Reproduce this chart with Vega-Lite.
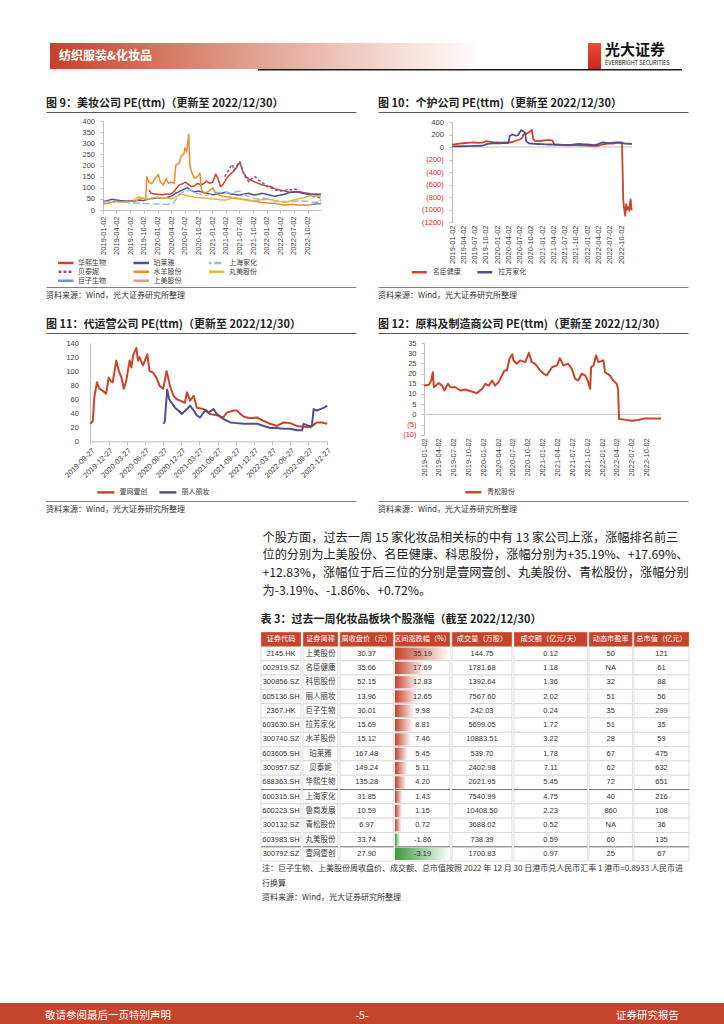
{
"$schema":"https://vega.github.io/schema/vega-lite/v6.json",
"padding":{"left":0,"top":42,"right":0,"bottom":0},
"background":"#ffffff",
"resolve":{"scale":{"color":"independent","strokeDash":"independent"},"legend":{"color":"independent","strokeDash":"independent"}},
"config":{
 "font":"Noto Sans CJK SC",
 "view":{"stroke":null},
 "concat":{"spacing":0},
 "axis":{"labelFont":"Liberation Sans","labelFontSize":7.5,"labelColor":"#404040","domainColor":"#bfbfbf","tickColor":"#bfbfbf","grid":false,"tickSize":3,"labelFlush":false,"labelOverlap":false},
 "legend":{"labelFont":"Noto Sans CJK SC","labelFontSize":7,"labelColor":"#404040"},
 "title":{"font":"Noto Sans CJK SC","fontSize":11,"fontWeight":"bold","color":"#222222","anchor":"start"}
},
"datasets":{
"c9":[
{"d":"2019/11/06","s":"华熙生物","v":90},{"d":"2019/11/20","s":"华熙生物","v":75},{"d":"2019/12/10","s":"华熙生物","v":72},{"d":"2020/01/06","s":"华熙生物","v":70},{"d":"2020/02/05","s":"华熙生物","v":68},{"d":"2020/03/02","s":"华熙生物","v":72},{"d":"2020/03/25","s":"华熙生物","v":70},{"d":"2020/04/20","s":"华熙生物","v":82},{"d":"2020/05/10","s":"华熙生物","v":100},{"d":"2020/05/25","s":"华熙生物","v":112},{"d":"2020/06/15","s":"华熙生物","v":118},{"d":"2020/07/06","s":"华熙生物","v":125},{"d":"2020/07/25","s":"华熙生物","v":115},{"d":"2020/08/15","s":"华熙生物","v":105},{"d":"2020/09/05","s":"华熙生物","v":108},{"d":"2020/09/25","s":"华熙生物","v":120},{"d":"2020/10/15","s":"华熙生物","v":112},{"d":"2020/11/05","s":"华熙生物","v":118},{"d":"2020/11/25","s":"华熙生物","v":130},{"d":"2020/12/15","s":"华熙生物","v":120},{"d":"2021/01/05","s":"华熙生物","v":125},{"d":"2021/01/25","s":"华熙生物","v":162},{"d":"2021/02/10","s":"华熙生物","v":140},{"d":"2021/02/26","s":"华熙生物","v":105},{"d":"2021/03/15","s":"华熙生物","v":115},{"d":"2021/04/05","s":"华熙生物","v":140},{"d":"2021/04/25","s":"华熙生物","v":155},{"d":"2021/05/20","s":"华熙生物","v":172},{"d":"2021/06/10","s":"华熙生物","v":187},{"d":"2021/06/25","s":"华熙生物","v":205},{"d":"2021/07/05","s":"华熙生物","v":214},{"d":"2021/07/15","s":"华熙生物","v":195},{"d":"2021/07/25","s":"华熙生物","v":172},{"d":"2021/08/15","s":"华熙生物","v":150},{"d":"2021/09/10","s":"华熙生物","v":135},{"d":"2021/10/10","s":"华熙生物","v":127},{"d":"2021/11/05","s":"华熙生物","v":120},{"d":"2021/12/05","s":"华熙生物","v":112},{"d":"2022/01/05","s":"华熙生物","v":108},{"d":"2022/01/28","s":"华熙生物","v":105},{"d":"2022/03/01","s":"华熙生物","v":94},{"d":"2022/04/01","s":"华熙生物","v":90},{"d":"2022/05/01","s":"华熙生物","v":85},{"d":"2022/06/01","s":"华熙生物","v":80},{"d":"2022/07/01","s":"华熙生物","v":80},{"d":"2022/08/01","s":"华熙生物","v":82},{"d":"2022/09/01","s":"华熙生物","v":78},{"d":"2022/10/01","s":"华熙生物","v":75},{"d":"2022/11/01","s":"华熙生物","v":72},{"d":"2022/12/01","s":"华熙生物","v":72},{"d":"2022/12/30","s":"华熙生物","v":70},
{"d":"2019/01/02","s":"珀莱雅","v":38},{"d":"2019/02/01","s":"珀莱雅","v":42},{"d":"2019/03/01","s":"珀莱雅","v":48},{"d":"2019/04/01","s":"珀莱雅","v":45},{"d":"2019/05/01","s":"珀莱雅","v":42},{"d":"2019/06/01","s":"珀莱雅","v":40},{"d":"2019/07/01","s":"珀莱雅","v":42},{"d":"2019/08/01","s":"珀莱雅","v":40},{"d":"2019/09/01","s":"珀莱雅","v":45},{"d":"2019/10/01","s":"珀莱雅","v":42},{"d":"2019/11/01","s":"珀莱雅","v":50},{"d":"2019/12/01","s":"珀莱雅","v":52},{"d":"2020/01/02","s":"珀莱雅","v":55},{"d":"2020/02/03","s":"珀莱雅","v":52},{"d":"2020/03/02","s":"珀莱雅","v":55},{"d":"2020/04/01","s":"珀莱雅","v":62},{"d":"2020/05/01","s":"珀莱雅","v":75},{"d":"2020/06/01","s":"珀莱雅","v":85},{"d":"2020/07/01","s":"珀莱雅","v":95},{"d":"2020/07/20","s":"珀莱雅","v":100},{"d":"2020/08/10","s":"珀莱雅","v":90},{"d":"2020/09/01","s":"珀莱雅","v":82},{"d":"2020/10/01","s":"珀莱雅","v":85},{"d":"2020/11/02","s":"珀莱雅","v":80},{"d":"2020/12/01","s":"珀莱雅","v":75},{"d":"2021/01/04","s":"珀莱雅","v":68},{"d":"2021/02/01","s":"珀莱雅","v":72},{"d":"2021/03/01","s":"珀莱雅","v":75},{"d":"2021/04/01","s":"珀莱雅","v":80},{"d":"2021/05/06","s":"珀莱雅","v":72},{"d":"2021/06/01","s":"珀莱雅","v":70},{"d":"2021/07/01","s":"珀莱雅","v":67},{"d":"2021/08/02","s":"珀莱雅","v":72},{"d":"2021/09/01","s":"珀莱雅","v":75},{"d":"2021/10/08","s":"珀莱雅","v":67},{"d":"2021/11/01","s":"珀莱雅","v":70},{"d":"2021/12/01","s":"珀莱雅","v":75},{"d":"2022/01/04","s":"珀莱雅","v":70},{"d":"2022/02/07","s":"珀莱雅","v":64},{"d":"2022/03/01","s":"珀莱雅","v":62},{"d":"2022/04/01","s":"珀莱雅","v":67},{"d":"2022/05/05","s":"珀莱雅","v":72},{"d":"2022/06/01","s":"珀莱雅","v":78},{"d":"2022/07/01","s":"珀莱雅","v":82},{"d":"2022/08/01","s":"珀莱雅","v":80},{"d":"2022/09/01","s":"珀莱雅","v":75},{"d":"2022/10/10","s":"珀莱雅","v":70},{"d":"2022/11/01","s":"珀莱雅","v":67},{"d":"2022/12/01","s":"珀莱雅","v":68},{"d":"2022/12/30","s":"珀莱雅","v":70},
{"d":"2019/01/02","s":"上海家化","v":35},{"d":"2019/03/01","s":"上海家化","v":40},{"d":"2019/05/01","s":"上海家化","v":38},{"d":"2019/07/01","s":"上海家化","v":33},{"d":"2019/09/02","s":"上海家化","v":30},{"d":"2019/11/01","s":"上海家化","v":28},{"d":"2020/01/02","s":"上海家化","v":27},{"d":"2020/03/02","s":"上海家化","v":25},{"d":"2020/04/15","s":"上海家化","v":30},{"d":"2020/05/01","s":"上海家化","v":45},{"d":"2020/05/20","s":"上海家化","v":65},{"d":"2020/06/15","s":"上海家化","v":80},{"d":"2020/07/15","s":"上海家化","v":85},{"d":"2020/08/10","s":"上海家化","v":92},{"d":"2020/09/01","s":"上海家化","v":78},{"d":"2020/10/09","s":"上海家化","v":72},{"d":"2020/11/02","s":"上海家化","v":65},{"d":"2020/12/01","s":"上海家化","v":68},{"d":"2021/01/04","s":"上海家化","v":75},{"d":"2021/02/01","s":"上海家化","v":80},{"d":"2021/03/01","s":"上海家化","v":78},{"d":"2021/04/01","s":"上海家化","v":82},{"d":"2021/05/06","s":"上海家化","v":75},{"d":"2021/06/01","s":"上海家化","v":80},{"d":"2021/07/01","s":"上海家化","v":85},{"d":"2021/08/02","s":"上海家化","v":70},{"d":"2021/09/01","s":"上海家化","v":60},{"d":"2021/10/08","s":"上海家化","v":52},{"d":"2021/11/01","s":"上海家化","v":50},{"d":"2021/12/01","s":"上海家化","v":55},{"d":"2022/01/04","s":"上海家化","v":50},{"d":"2022/02/07","s":"上海家化","v":45},{"d":"2022/03/01","s":"上海家化","v":42},{"d":"2022/04/01","s":"上海家化","v":40},{"d":"2022/05/05","s":"上海家化","v":38},{"d":"2022/06/01","s":"上海家化","v":35},{"d":"2022/07/01","s":"上海家化","v":38},{"d":"2022/08/01","s":"上海家化","v":42},{"d":"2022/09/01","s":"上海家化","v":40},{"d":"2022/10/10","s":"上海家化","v":38},{"d":"2022/11/01","s":"上海家化","v":36},{"d":"2022/12/01","s":"上海家化","v":35},{"d":"2022/12/30","s":"上海家化","v":35},
{"d":"2021/03/25","s":"贝泰妮","v":150},{"d":"2021/04/10","s":"贝泰妮","v":165},{"d":"2021/04/25","s":"贝泰妮","v":185},{"d":"2021/05/15","s":"贝泰妮","v":205},{"d":"2021/05/28","s":"贝泰妮","v":180},{"d":"2021/06/15","s":"贝泰妮","v":200},{"d":"2021/07/05","s":"贝泰妮","v":217},{"d":"2021/07/15","s":"贝泰妮","v":200},{"d":"2021/07/28","s":"贝泰妮","v":170},{"d":"2021/08/15","s":"贝泰妮","v":142},{"d":"2021/09/05","s":"贝泰妮","v":127},{"d":"2021/09/25","s":"贝泰妮","v":142},{"d":"2021/10/15","s":"贝泰妮","v":150},{"d":"2021/11/05","s":"贝泰妮","v":135},{"d":"2021/12/01","s":"贝泰妮","v":125},{"d":"2022/01/04","s":"贝泰妮","v":105},{"d":"2022/02/07","s":"贝泰妮","v":97},{"d":"2022/03/01","s":"贝泰妮","v":90},{"d":"2022/04/01","s":"贝泰妮","v":85},{"d":"2022/05/05","s":"贝泰妮","v":88},{"d":"2022/05/25","s":"贝泰妮","v":94},{"d":"2022/06/15","s":"贝泰妮","v":90},{"d":"2022/07/01","s":"贝泰妮","v":95},{"d":"2022/07/20","s":"贝泰妮","v":92},{"d":"2022/08/10","s":"贝泰妮","v":82},{"d":"2022/09/01","s":"贝泰妮","v":80},{"d":"2022/10/10","s":"贝泰妮","v":70},{"d":"2022/11/01","s":"贝泰妮","v":62},{"d":"2022/12/01","s":"贝泰妮","v":58},{"d":"2022/12/30","s":"贝泰妮","v":55},
{"d":"2019/01/02","s":"水羊股份","v":28},{"d":"2019/02/01","s":"水羊股份","v":30},{"d":"2019/03/01","s":"水羊股份","v":35},{"d":"2019/04/01","s":"水羊股份","v":38},{"d":"2019/05/06","s":"水羊股份","v":36},{"d":"2019/06/03","s":"水羊股份","v":38},{"d":"2019/07/01","s":"水羊股份","v":40},{"d":"2019/08/01","s":"水羊股份","v":38},{"d":"2019/09/02","s":"水羊股份","v":50},{"d":"2019/09/20","s":"水羊股份","v":55},{"d":"2019/10/15","s":"水羊股份","v":48},{"d":"2019/10/22","s":"水羊股份","v":150},{"d":"2019/11/05","s":"水羊股份","v":125},{"d":"2019/11/25","s":"水羊股份","v":118},{"d":"2019/12/10","s":"水羊股份","v":135},{"d":"2020/01/06","s":"水羊股份","v":160},{"d":"2020/01/20","s":"水羊股份","v":127},{"d":"2020/02/10","s":"水羊股份","v":112},{"d":"2020/02/28","s":"水羊股份","v":142},{"d":"2020/03/15","s":"水羊股份","v":120},{"d":"2020/04/01","s":"水羊股份","v":125},{"d":"2020/04/22","s":"水羊股份","v":120},{"d":"2020/05/03","s":"水羊股份","v":202},{"d":"2020/05/25","s":"水羊股份","v":210},{"d":"2020/06/10","s":"水羊股份","v":245},{"d":"2020/06/25","s":"水羊股份","v":250},{"d":"2020/07/03","s":"水羊股份","v":280},{"d":"2020/07/15","s":"水羊股份","v":260},{"d":"2020/07/28","s":"水羊股份","v":340},{"d":"2020/08/05","s":"水羊股份","v":200},{"d":"2020/08/20","s":"水羊股份","v":165},{"d":"2020/09/05","s":"水羊股份","v":142},{"d":"2020/09/25","s":"水羊股份","v":150},{"d":"2020/10/12","s":"水羊股份","v":165},{"d":"2020/10/20","s":"水羊股份","v":97},{"d":"2020/11/02","s":"水羊股份","v":75},{"d":"2020/12/01","s":"水羊股份","v":80},{"d":"2021/01/05","s":"水羊股份","v":100},{"d":"2021/01/25","s":"水羊股份","v":75},{"d":"2021/02/25","s":"水羊股份","v":65},{"d":"2021/03/25","s":"水羊股份","v":60},{"d":"2021/05/01","s":"水羊股份","v":58},{"d":"2021/06/01","s":"水羊股份","v":52},{"d":"2021/07/01","s":"水羊股份","v":50},{"d":"2021/08/02","s":"水羊股份","v":48},{"d":"2021/09/01","s":"水羊股份","v":45},{"d":"2021/10/08","s":"水羊股份","v":40},{"d":"2021/11/01","s":"水羊股份","v":38},{"d":"2021/12/01","s":"水羊股份","v":33},{"d":"2022/01/04","s":"水羊股份","v":32},{"d":"2022/02/07","s":"水羊股份","v":30},{"d":"2022/03/01","s":"水羊股份","v":30},{"d":"2022/04/01","s":"水羊股份","v":25},{"d":"2022/05/05","s":"水羊股份","v":22},{"d":"2022/06/01","s":"水羊股份","v":25},{"d":"2022/07/01","s":"水羊股份","v":25},{"d":"2022/08/01","s":"水羊股份","v":22},{"d":"2022/09/01","s":"水羊股份","v":22},{"d":"2022/10/10","s":"水羊股份","v":22},{"d":"2022/11/01","s":"水羊股份","v":25},{"d":"2022/12/01","s":"水羊股份","v":28},{"d":"2022/12/30","s":"水羊股份","v":30},
{"d":"2019/07/25","s":"丸美股份","v":45},{"d":"2019/08/15","s":"丸美股份","v":55},{"d":"2019/09/02","s":"丸美股份","v":58},{"d":"2019/10/08","s":"丸美股份","v":52},{"d":"2019/11/01","s":"丸美股份","v":50},{"d":"2019/12/02","s":"丸美股份","v":55},{"d":"2020/01/02","s":"丸美股份","v":58},{"d":"2020/02/03","s":"丸美股份","v":52},{"d":"2020/03/02","s":"丸美股份","v":55},{"d":"2020/04/01","s":"丸美股份","v":50},{"d":"2020/05/06","s":"丸美股份","v":60},{"d":"2020/06/01","s":"丸美股份","v":70},{"d":"2020/07/01","s":"丸美股份","v":68},{"d":"2020/08/03","s":"丸美股份","v":62},{"d":"2020/09/01","s":"丸美股份","v":58},{"d":"2020/10/09","s":"丸美股份","v":55},{"d":"2020/11/02","s":"丸美股份","v":55},{"d":"2020/12/01","s":"丸美股份","v":52},{"d":"2021/01/04","s":"丸美股份","v":50},{"d":"2021/02/01","s":"丸美股份","v":48},{"d":"2021/03/01","s":"丸美股份","v":45},{"d":"2021/04/01","s":"丸美股份","v":45},{"d":"2021/05/06","s":"丸美股份","v":52},{"d":"2021/06/01","s":"丸美股份","v":57},{"d":"2021/07/01","s":"丸美股份","v":52},{"d":"2021/08/02","s":"丸美股份","v":45},{"d":"2021/09/01","s":"丸美股份","v":42},{"d":"2021/10/08","s":"丸美股份","v":40},{"d":"2021/11/01","s":"丸美股份","v":44},{"d":"2021/12/01","s":"丸美股份","v":47},{"d":"2022/01/04","s":"丸美股份","v":48},{"d":"2022/02/07","s":"丸美股份","v":45},{"d":"2022/03/01","s":"丸美股份","v":40},{"d":"2022/04/01","s":"丸美股份","v":37},{"d":"2022/05/05","s":"丸美股份","v":35},{"d":"2022/06/01","s":"丸美股份","v":40},{"d":"2022/07/01","s":"丸美股份","v":45},{"d":"2022/08/01","s":"丸美股份","v":50},{"d":"2022/09/01","s":"丸美股份","v":55},{"d":"2022/10/10","s":"丸美股份","v":62},{"d":"2022/11/01","s":"丸美股份","v":65},{"d":"2022/12/01","s":"丸美股份","v":62},{"d":"2022/12/30","s":"丸美股份","v":60},
{"d":"2022/11/04","s":"巨子生物","v":28},{"d":"2022/11/20","s":"巨子生物","v":25},{"d":"2022/12/05","s":"巨子生物","v":30},{"d":"2022/12/20","s":"巨子生物","v":27},{"d":"2022/12/30","s":"巨子生物","v":30},
{"d":"2022/12/22","s":"上美股份","v":40},{"d":"2022/12/30","s":"上美股份","v":48}
],
"c10":[
{"d":"2019/01/02","s":"名臣健康","v":40},{"d":"2019/02/01","s":"名臣健康","v":45},{"d":"2019/03/01","s":"名臣健康","v":55},{"d":"2019/04/01","s":"名臣健康","v":60},{"d":"2019/05/06","s":"名臣健康","v":65},{"d":"2019/06/03","s":"名臣健康","v":70},{"d":"2019/07/01","s":"名臣健康","v":72},{"d":"2019/08/01","s":"名臣健康","v":65},{"d":"2019/09/02","s":"名臣健康","v":70},{"d":"2019/10/08","s":"名臣健康","v":95},{"d":"2019/11/01","s":"名臣健康","v":85},{"d":"2019/12/02","s":"名臣健康","v":75},{"d":"2020/01/02","s":"名臣健康","v":72},{"d":"2020/02/03","s":"名臣健康","v":70},{"d":"2020/03/02","s":"名臣健康","v":72},{"d":"2020/04/01","s":"名臣健康","v":70},{"d":"2020/05/06","s":"名臣健康","v":80},{"d":"2020/06/01","s":"名臣健康","v":100},{"d":"2020/07/01","s":"名臣健康","v":120},{"d":"2020/07/20","s":"名臣健康","v":140},{"d":"2020/08/05","s":"名臣健康","v":205},{"d":"2020/08/25","s":"名臣健康","v":210},{"d":"2020/09/15","s":"名臣健康","v":235},{"d":"2020/10/09","s":"名臣健康","v":275},{"d":"2020/10/20","s":"名臣健康","v":130},{"d":"2020/11/02","s":"名臣健康","v":100},{"d":"2020/12/01","s":"名臣健康","v":95},{"d":"2021/01/04","s":"名臣健康","v":100},{"d":"2021/02/01","s":"名臣健康","v":110},{"d":"2021/03/01","s":"名臣健康","v":110},{"d":"2021/03/25","s":"名臣健康","v":105},{"d":"2021/04/10","s":"名臣健康","v":35},{"d":"2021/05/06","s":"名臣健康","v":38},{"d":"2021/06/01","s":"名臣健康","v":35},{"d":"2021/07/01","s":"名臣健康","v":30},{"d":"2021/08/02","s":"名臣健康","v":28},{"d":"2021/09/01","s":"名臣健康","v":30},{"d":"2021/10/08","s":"名臣健康","v":32},{"d":"2021/11/01","s":"名臣健康","v":28},{"d":"2021/12/01","s":"名臣健康","v":25},{"d":"2022/01/04","s":"名臣健康","v":22},{"d":"2022/02/07","s":"名臣健康","v":20},{"d":"2022/03/01","s":"名臣健康","v":18},{"d":"2022/04/01","s":"名臣健康","v":20},{"d":"2022/05/05","s":"名臣健康","v":40},{"d":"2022/06/01","s":"名臣健康","v":50},{"d":"2022/07/01","s":"名臣健康","v":60},{"d":"2022/08/01","s":"名臣健康","v":55},{"d":"2022/09/01","s":"名臣健康","v":70},{"d":"2022/10/10","s":"名臣健康","v":72},{"d":"2022/10/20","s":"名臣健康","v":-850},{"d":"2022/10/28","s":"名臣健康","v":-1000},{"d":"2022/11/05","s":"名臣健康","v":-1100},{"d":"2022/11/12","s":"名臣健康","v":-920},{"d":"2022/11/20","s":"名臣健康","v":-1000},{"d":"2022/11/28","s":"名臣健康","v":-960},{"d":"2022/12/08","s":"名臣健康","v":-1020},{"d":"2022/12/15","s":"名臣健康","v":-880},{"d":"2022/12/20","s":"名臣健康","v":-840},{"d":"2022/12/25","s":"名臣健康","v":-1000},{"d":"2022/12/30","s":"名臣健康","v":-980},
{"d":"2019/01/02","s":"拉芳家化","v":10},{"d":"2019/03/01","s":"拉芳家化","v":12},{"d":"2019/05/06","s":"拉芳家化","v":15},{"d":"2019/07/01","s":"拉芳家化","v":18},{"d":"2019/09/02","s":"拉芳家化","v":20},{"d":"2019/10/08","s":"拉芳家化","v":45},{"d":"2019/11/01","s":"拉芳家化","v":55},{"d":"2019/12/02","s":"拉芳家化","v":60},{"d":"2020/01/02","s":"拉芳家化","v":62},{"d":"2020/02/03","s":"拉芳家化","v":60},{"d":"2020/03/02","s":"拉芳家化","v":65},{"d":"2020/04/01","s":"拉芳家化","v":62},{"d":"2020/04/13","s":"拉芳家化","v":175},{"d":"2020/05/06","s":"拉芳家化","v":200},{"d":"2020/06/01","s":"拉芳家化","v":180},{"d":"2020/06/20","s":"拉芳家化","v":190},{"d":"2020/07/06","s":"拉芳家化","v":245},{"d":"2020/07/15","s":"拉芳家化","v":270},{"d":"2020/08/01","s":"拉芳家化","v":250},{"d":"2020/08/15","s":"拉芳家化","v":230},{"d":"2020/08/25","s":"拉芳家化","v":90},{"d":"2020/09/15","s":"拉芳家化","v":60},{"d":"2020/10/09","s":"拉芳家化","v":55},{"d":"2020/11/02","s":"拉芳家化","v":50},{"d":"2020/12/01","s":"拉芳家化","v":48},{"d":"2021/01/04","s":"拉芳家化","v":45},{"d":"2021/02/01","s":"拉芳家化","v":42},{"d":"2021/03/01","s":"拉芳家化","v":40},{"d":"2021/05/06","s":"拉芳家化","v":38},{"d":"2021/07/01","s":"拉芳家化","v":35},{"d":"2021/09/01","s":"拉芳家化","v":38},{"d":"2021/10/08","s":"拉芳家化","v":45},{"d":"2021/11/01","s":"拉芳家化","v":48},{"d":"2021/12/01","s":"拉芳家化","v":42},{"d":"2022/01/04","s":"拉芳家化","v":40},{"d":"2022/02/07","s":"拉芳家化","v":35},{"d":"2022/03/01","s":"拉芳家化","v":30},{"d":"2022/04/01","s":"拉芳家化","v":45},{"d":"2022/05/05","s":"拉芳家化","v":75},{"d":"2022/06/01","s":"拉芳家化","v":68},{"d":"2022/07/01","s":"拉芳家化","v":62},{"d":"2022/08/01","s":"拉芳家化","v":70},{"d":"2022/09/01","s":"拉芳家化","v":72},{"d":"2022/10/10","s":"拉芳家化","v":65},{"d":"2022/11/01","s":"拉芳家化","v":55},{"d":"2022/12/01","s":"拉芳家化","v":52},{"d":"2022/12/30","s":"拉芳家化","v":50}
],
"c11":[
{"d":"2019/09/27","s":"壹网壹创","v":25},{"d":"2019/10/09","s":"壹网壹创","v":29},{"d":"2019/10/17","s":"壹网壹创","v":63},{"d":"2019/10/30","s":"壹网壹创","v":84},{"d":"2019/11/11","s":"壹网壹创","v":75},{"d":"2019/11/28","s":"壹网壹创","v":72},{"d":"2019/12/15","s":"壹网壹创","v":68},{"d":"2019/12/28","s":"壹网壹创","v":91},{"d":"2020/01/08","s":"壹网壹创","v":86},{"d":"2020/01/17","s":"壹网壹创","v":84},{"d":"2020/02/04","s":"壹网壹创","v":115},{"d":"2020/02/17","s":"壹网壹创","v":100},{"d":"2020/03/01","s":"壹网壹创","v":91},{"d":"2020/03/13","s":"壹网壹创","v":75},{"d":"2020/03/25","s":"壹网壹创","v":86},{"d":"2020/04/11","s":"壹网壹创","v":115},{"d":"2020/04/20","s":"壹网壹创","v":105},{"d":"2020/04/28","s":"壹网壹创","v":122},{"d":"2020/05/15","s":"壹网壹创","v":133},{"d":"2020/05/23","s":"壹网壹创","v":115},{"d":"2020/05/31","s":"壹网壹创","v":120},{"d":"2020/06/17","s":"壹网壹创","v":108},{"d":"2020/07/09","s":"壹网壹创","v":124},{"d":"2020/07/20","s":"壹网壹创","v":100},{"d":"2020/08/06","s":"壹网壹创","v":98},{"d":"2020/08/23","s":"壹网壹创","v":91},{"d":"2020/09/09","s":"壹网壹创","v":79},{"d":"2020/09/27","s":"壹网壹创","v":75},{"d":"2020/10/14","s":"壹网壹创","v":100},{"d":"2020/10/31","s":"壹网壹创","v":79},{"d":"2020/11/17","s":"壹网壹创","v":65},{"d":"2020/12/04","s":"壹网壹创","v":60},{"d":"2020/12/21","s":"壹网壹创","v":58},{"d":"2021/01/14","s":"壹网壹创","v":55},{"d":"2021/01/24","s":"壹网壹创","v":70},{"d":"2021/02/09","s":"壹网壹创","v":58},{"d":"2021/02/27","s":"壹网壹创","v":65},{"d":"2021/03/15","s":"壹网壹创","v":48},{"d":"2021/04/17","s":"壹网壹创","v":46},{"d":"2021/05/03","s":"壹网壹创","v":44},{"d":"2021/05/20","s":"壹网壹创","v":39},{"d":"2021/06/24","s":"壹网壹创","v":37},{"d":"2021/07/26","s":"壹网壹创","v":34},{"d":"2021/08/12","s":"壹网壹创","v":41},{"d":"2021/09/16","s":"壹网壹创","v":44},{"d":"2021/10/03","s":"壹网壹创","v":44},{"d":"2021/10/20","s":"壹网壹创","v":39},{"d":"2021/11/06","s":"壹网壹创","v":35},{"d":"2021/12/09","s":"壹网壹创","v":33},{"d":"2022/01/12","s":"壹网壹创","v":34},{"d":"2022/02/15","s":"壹网壹创","v":29},{"d":"2022/03/19","s":"壹网壹创","v":25},{"d":"2022/04/22","s":"壹网壹创","v":22},{"d":"2022/05/25","s":"壹网壹创","v":27},{"d":"2022/06/27","s":"壹网壹创","v":26},{"d":"2022/07/30","s":"壹网壹创","v":22},{"d":"2022/09/03","s":"壹网壹创","v":21},{"d":"2022/10/06","s":"壹网壹创","v":20},{"d":"2022/11/08","s":"壹网壹创","v":27},{"d":"2022/12/03","s":"壹网壹创","v":27},{"d":"2022/12/30","s":"壹网壹创","v":25},
{"d":"2020/09/29","s":"丽人丽妆","v":25},{"d":"2020/10/05","s":"丽人丽妆","v":29},{"d":"2020/10/17","s":"丽人丽妆","v":74},{"d":"2020/10/27","s":"丽人丽妆","v":60},{"d":"2020/11/08","s":"丽人丽妆","v":55},{"d":"2020/11/25","s":"丽人丽妆","v":48},{"d":"2020/12/12","s":"丽人丽妆","v":44},{"d":"2020/12/29","s":"丽人丽妆","v":39},{"d":"2021/01/24","s":"丽人丽妆","v":46},{"d":"2021/02/09","s":"丽人丽妆","v":51},{"d":"2021/02/27","s":"丽人丽妆","v":44},{"d":"2021/03/15","s":"丽人丽妆","v":37},{"d":"2021/03/31","s":"丽人丽妆","v":34},{"d":"2021/04/25","s":"丽人丽妆","v":44},{"d":"2021/05/12","s":"丽人丽妆","v":41},{"d":"2021/06/06","s":"丽人丽妆","v":46},{"d":"2021/06/24","s":"丽人丽妆","v":39},{"d":"2021/07/26","s":"丽人丽妆","v":32},{"d":"2021/08/30","s":"丽人丽妆","v":27},{"d":"2021/10/03","s":"丽人丽妆","v":26},{"d":"2021/11/06","s":"丽人丽妆","v":25},{"d":"2021/12/09","s":"丽人丽妆","v":25},{"d":"2022/01/12","s":"丽人丽妆","v":25},{"d":"2022/02/15","s":"丽人丽妆","v":22},{"d":"2022/03/19","s":"丽人丽妆","v":19},{"d":"2022/04/22","s":"丽人丽妆","v":19},{"d":"2022/05/25","s":"丽人丽妆","v":18},{"d":"2022/06/27","s":"丽人丽妆","v":18},{"d":"2022/07/30","s":"丽人丽妆","v":16},{"d":"2022/08/26","s":"丽人丽妆","v":16},{"d":"2022/09/03","s":"丽人丽妆","v":25},{"d":"2022/09/28","s":"丽人丽妆","v":22},{"d":"2022/10/14","s":"丽人丽妆","v":22},{"d":"2022/10/23","s":"丽人丽妆","v":46},{"d":"2022/11/08","s":"丽人丽妆","v":44},{"d":"2022/11/25","s":"丽人丽妆","v":46},{"d":"2022/12/14","s":"丽人丽妆","v":48},{"d":"2022/12/30","s":"丽人丽妆","v":51}
],
"c12":[
{"d":"2019/01/02","s":"青松股份","v":14.1},{"d":"2019/02/01","s":"青松股份","v":14.5},{"d":"2019/02/16","s":"青松股份","v":16.6},{"d":"2019/02/25","s":"青松股份","v":20.7},{"d":"2019/03/04","s":"青松股份","v":13.3},{"d":"2019/04/02","s":"青松股份","v":15.4},{"d":"2019/04/23","s":"青松股份","v":14.1},{"d":"2019/05/08","s":"青松股份","v":11.7},{"d":"2019/05/29","s":"青松股份","v":15.0},{"d":"2019/06/13","s":"青松股份","v":13.3},{"d":"2019/07/14","s":"青松股份","v":13.3},{"d":"2019/08/13","s":"青松股份","v":11.7},{"d":"2019/09/13","s":"青松股份","v":12.2},{"d":"2019/10/23","s":"青松股份","v":11.2},{"d":"2019/11/22","s":"青松股份","v":10.4},{"d":"2019/12/26","s":"青松股份","v":12.5},{"d":"2020/01/14","s":"青松股份","v":15.0},{"d":"2020/02/04","s":"青松股份","v":14.1},{"d":"2020/02/25","s":"青松股份","v":16.6},{"d":"2020/03/14","s":"青松股份","v":14.1},{"d":"2020/04/05","s":"青松股份","v":15.8},{"d":"2020/04/26","s":"青松股份","v":19.1},{"d":"2020/05/11","s":"青松股份","v":21.5},{"d":"2020/05/26","s":"青松股份","v":21.5},{"d":"2020/06/11","s":"青松股份","v":27.3},{"d":"2020/06/28","s":"青松股份","v":29.5},{"d":"2020/07/05","s":"青松股份","v":26.5},{"d":"2020/07/26","s":"青松股份","v":24.8},{"d":"2020/08/16","s":"青松股份","v":26.5},{"d":"2020/09/16","s":"青松股份","v":25.6},{"d":"2020/10/08","s":"青松股份","v":30.2},{"d":"2020/10/26","s":"青松股份","v":25.6},{"d":"2020/11/16","s":"青松股份","v":24.8},{"d":"2020/12/17","s":"青松股份","v":21.5},{"d":"2021/01/08","s":"青松股份","v":19.9},{"d":"2021/01/26","s":"青松股份","v":19.1},{"d":"2021/03/01","s":"青松股份","v":23.2},{"d":"2021/03/30","s":"青松股份","v":24.0},{"d":"2021/04/17","s":"青松股份","v":27.6},{"d":"2021/05/08","s":"青松股份","v":24.0},{"d":"2021/06/07","s":"青松股份","v":24.8},{"d":"2021/06/29","s":"青松股份","v":22.3},{"d":"2021/07/20","s":"青松股份","v":17.4},{"d":"2021/08/08","s":"青松股份","v":16.6},{"d":"2021/08/29","s":"青松股份","v":19.9},{"d":"2021/09/19","s":"青松股份","v":19.1},{"d":"2021/10/05","s":"青松股份","v":16.6},{"d":"2021/10/20","s":"青松股份","v":12.5},{"d":"2021/10/26","s":"青松股份","v":23.2},{"d":"2021/11/10","s":"青松股份","v":24.0},{"d":"2021/11/25","s":"青松股份","v":28.9},{"d":"2021/12/10","s":"青松股份","v":25.6},{"d":"2022/01/10","s":"青松股份","v":26.5},{"d":"2022/01/19","s":"青松股份","v":20.7},{"d":"2022/02/18","s":"青松股份","v":19.1},{"d":"2022/03/11","s":"青松股份","v":16.6},{"d":"2022/04/01","s":"青松股份","v":15.0},{"d":"2022/04/10","s":"青松股份","v":12.5},{"d":"2022/04/16","s":"青松股份","v":-2.3},{"d":"2022/05/20","s":"青松股份","v":-2.6},{"d":"2022/07/02","s":"青松股份","v":-3.1},{"d":"2022/08/11","s":"青松股份","v":-2.8},{"d":"2022/09/23","s":"青松股份","v":-2.0},{"d":"2022/11/02","s":"青松股份","v":-2.0},{"d":"2022/12/30","s":"青松股份","v":-2.0}
],
"tbl":[
{"r":1,"code":"2145.HK","name":"上美股份","close":"30.37","chg":35.19,"chgt":"35.19","vol":"144.75","amt":"0.12","pe":"50","mcap":"121"},
{"r":2,"code":"002919.SZ","name":"名臣健康","close":"35.66","chg":17.69,"chgt":"17.69","vol":"1781.68","amt":"1.18","pe":"NA","mcap":"61"},
{"r":3,"code":"300856.SZ","name":"科思股份","close":"52.15","chg":12.83,"chgt":"12.83","vol":"1392.64","amt":"1.36","pe":"32","mcap":"88"},
{"r":4,"code":"605136.SH","name":"丽人丽妆","close":"13.96","chg":12.65,"chgt":"12.65","vol":"7567.60","amt":"2.02","pe":"51","mcap":"56"},
{"r":5,"code":"2367.HK","name":"巨子生物","close":"30.01","chg":9.98,"chgt":"9.98","vol":"242.03","amt":"0.24","pe":"35","mcap":"299"},
{"r":6,"code":"603630.SH","name":"拉芳家化","close":"15.69","chg":8.81,"chgt":"8.81","vol":"5699.05","amt":"1.72","pe":"51","mcap":"35"},
{"r":7,"code":"300740.SZ","name":"水羊股份","close":"15.12","chg":7.46,"chgt":"7.46","vol":"10883.51","amt":"3.22","pe":"28","mcap":"59"},
{"r":8,"code":"603605.SH","name":"珀莱雅","close":"167.48","chg":5.45,"chgt":"5.45","vol":"539.70","amt":"1.78","pe":"67","mcap":"475"},
{"r":9,"code":"300957.SZ","name":"贝泰妮","close":"149.24","chg":5.11,"chgt":"5.11","vol":"2402.98","amt":"7.11","pe":"62","mcap":"632"},
{"r":10,"code":"688363.SH","name":"华熙生物","close":"135.28","chg":4.20,"chgt":"4.20","vol":"2021.95","amt":"5.45","pe":"72","mcap":"651"},
{"r":11,"code":"600315.SH","name":"上海家化","close":"31.85","chg":1.43,"chgt":"1.43","vol":"7540.99","amt":"4.75","pe":"40","mcap":"216"},
{"r":12,"code":"600223.SH","name":"鲁商发展","close":"10.59","chg":1.15,"chgt":"1.15","vol":"10408.50","amt":"2.23","pe":"860","mcap":"108"},
{"r":13,"code":"300132.SZ","name":"青松股份","close":"6.97","chg":0.72,"chgt":"0.72","vol":"3688.02","amt":"0.52","pe":"NA","mcap":"36"},
{"r":14,"code":"603983.SH","name":"丸美股份","close":"33.74","chg":-1.86,"chgt":"-1.86","vol":"738.39","amt":"0.59","pe":"60","mcap":"135"},
{"r":15,"code":"300792.SZ","name":"壹网壹创","close":"27.90","chg":-3.19,"chgt":"-3.19","vol":"1700.83","amt":"0.97","pe":"25","mcap":"67"}
]
},
"vconcat":[
{"hconcat":[
 {"width":50,"height":26,"data":{"values":[{}]},"mark":{"type":"rect","opacity":0},"encoding":{}},
 {"width":430,"height":26,"layer":[
  {"data":{"values":[{}]},"mark":{"type":"rect","color":{"gradient":"linear","x1":0,"y1":0,"x2":1,"y2":0,"stops":[{"offset":0,"color":"#c4422a"},{"offset":0.4,"color":"#dd9380"},{"offset":0.75,"color":"#f1d2ca"},{"offset":1,"color":"#ffffff"}]}},"encoding":{}},
  {"data":{"values":[{"t":"纺织服装&化妆品"}]},"mark":{"type":"text","align":"left","baseline":"middle","color":"#ffffff","fontSize":12,"fontWeight":"bold","dx":9},"encoding":{"text":{"field":"t"},"x":{"datum":0,"type":"quantitative","scale":{"domain":[0,1]},"axis":null}}}
 ]},
 {"width":108,"height":26,"data":{"values":[{}]},"mark":{"type":"rect","opacity":0},"encoding":{}},
 {"width":13,"height":26,"data":{"values":[{}]},"mark":{"type":"rect","color":{"gradient":"linear","x1":0,"y1":0,"x2":0,"y2":1,"stops":[{"offset":0,"color":"#ef4a35"},{"offset":1,"color":"#c52a22"}]}},"encoding":{}},
 {"width":4,"height":26,"data":{"values":[{}]},"mark":{"type":"rect","opacity":0},"encoding":{}},
 {"width":85,"height":26,"layer":[
  {"data":{"values":[{"k":"a","t":"光大证券"}]},"mark":{"type":"text","align":"left","baseline":"middle","fontSize":15,"fontWeight":"bold","color":"#111111"},"encoding":{"text":{"field":"t"},"y":{"field":"k","type":"ordinal","scale":{"type":"band","domain":["a","b"],"paddingInner":0,"paddingOuter":0},"axis":null},"x":{"datum":0,"type":"quantitative","scale":{"domain":[0,1]},"axis":null}}},
  {"data":{"values":[{"k":"b","t":"EVERBRIGHT SECURITIES"}]},"mark":{"type":"text","align":"left","baseline":"middle","fontSize":5.5,"color":"#111111"},"encoding":{"text":{"field":"t"},"y":{"field":"k","type":"ordinal","scale":{"type":"band","domain":["a","b"],"paddingInner":0,"paddingOuter":0},"axis":null},"x":{"datum":0,"type":"quantitative","scale":{"domain":[0,1]},"axis":null}}}
 ]}
]},
{"hconcat":[
 {"width":258,"height":1.5,"data":{"values":[{}]},"mark":{"type":"rect","opacity":0},"encoding":{}},
 {"width":424,"height":1.5,"data":{"values":[{}]},"mark":{"type":"rect","color":"#1a1a1a"},"encoding":{}}
]},
{"width":1,"height":25.2,"data":{"values":[{}]},"mark":{"type":"rect","opacity":0},"encoding":{}},
{"spacing":0,"resolve":{"scale":{"color":"independent","strokeDash":"independent"},"legend":{"color":"independent","strokeDash":"independent"}},"vconcat":[
 {"resolve":{"scale":{"color":"independent","strokeDash":"independent"},"legend":{"color":"independent","strokeDash":"independent"}},"hconcat":[
  {"width":45,"height":1,"data":{"values":[{}]},"mark":{"type":"rect","opacity":0},"encoding":{}},
  {"vconcat":[
   {"width":310,"height":4.3,"data":{"values":[{}]},"mark":{"type":"rect","opacity":0},"encoding":{},"view":{"stroke":"#595959","strokeWidth":1,"strokeDash":[310,3000]},"title":{"text":"图 9：美妆公司 PE(ttm)（更新至 2022/12/30）","offset":3}},
   {"hconcat":[
    {"width":35,"height":1,"data":{"values":[{}]},"mark":{"type":"rect","opacity":0},"encoding":{}},
    {"width":218,"height":89,"data":{"name":"c9"},
     "mark":{"type":"line","strokeWidth":1.5,"strokeJoin":"round"},
     "encoding":{
      "x":{"field":"d","type":"temporal","title":null,"scale":{"domain":[{"year":2019,"month":1,"date":2},{"year":2022,"month":12,"date":30}]},
           "axis":{"values":[{"year":2019,"month":1,"date":2},{"year":2019,"month":4,"date":2},{"year":2019,"month":7,"date":2},{"year":2019,"month":10,"date":2},{"year":2020,"month":1,"date":2},{"year":2020,"month":4,"date":2},{"year":2020,"month":7,"date":2},{"year":2020,"month":10,"date":2},{"year":2021,"month":1,"date":2},{"year":2021,"month":4,"date":2},{"year":2021,"month":7,"date":2},{"year":2021,"month":10,"date":2},{"year":2022,"month":1,"date":2},{"year":2022,"month":4,"date":2},{"year":2022,"month":7,"date":2},{"year":2022,"month":10,"date":2}],"format":"%Y-%m-%d","labelAngle":-90,"labelPadding":3}},
      "y":{"field":"v","type":"quantitative","title":null,"scale":{"domain":[0,400],"nice":false},"axis":{"values":[0,50,100,150,200,250,300,350,400],"labelPadding":5.5,"labelOverlap":false}},
      "color":{"field":"s","type":"nominal","scale":{"domain":["华熙生物","珀莱雅","上海家化","贝泰妮","水羊股份","丸美股份","巨子生物","上美股份"],"range":["#c9452c","#534f8c","#93bedc","#8c4f9e","#f28b30","#e2b646","#7394cc","#e49a9a"]},
               "legend":{"orient":"none","legendX":12,"legendY":146.5,"direction":"horizontal","columns":3,"symbolType":"M-2.5,0L2.5,0","symbolSize":64,"symbolStrokeWidth":2.5,"title":null,"rowPadding":0,"clipHeight":8.5,"columnPadding":27.5,"labelOffset":9,"padding":0}},
      "strokeDash":{"field":"s","type":"nominal","scale":{"domain":["华熙生物","珀莱雅","上海家化","贝泰妮","水羊股份","丸美股份","巨子生物","上美股份"],"range":[[1,0],[1,0],[7,3],[3,2],[1,0],[1,0],[1,0],[1,0]]},
               "legend":{"orient":"none","legendX":12,"legendY":146.5,"direction":"horizontal","columns":3,"symbolType":"M-2.5,0L2.5,0","symbolSize":64,"symbolStrokeWidth":2.5,"title":null,"rowPadding":0,"clipHeight":8.5,"columnPadding":27.5,"labelOffset":9,"padding":0}}
     }}
   ]}
  ]},
  {"width":20,"height":1,"data":{"values":[{}]},"mark":{"type":"rect","opacity":0},"encoding":{}},
  {"vconcat":[
   {"width":310,"height":5.1,"data":{"values":[{}]},"mark":{"type":"rect","opacity":0},"encoding":{},"view":{"stroke":"#595959","strokeWidth":1,"strokeDash":[310,3000]},"title":{"text":"图 10：个护公司 PE(ttm)（更新至 2022/12/30）","offset":3}},
   {"hconcat":[
    {"width":42.3,"height":1,"data":{"values":[{}]},"mark":{"type":"rect","opacity":0},"encoding":{}},
    {"width":180,"height":100,"layer":[
     {"data":{"values":[{}]},"mark":{"type":"rule","color":"#bfbfbf","strokeWidth":1},"encoding":{"y":{"datum":0,"type":"quantitative","title":null,"axis":{"values":[-1200,-1000,-800,-600,-400,-200,0,200,400],"labelPadding":5.7,"labelOverlap":false,"labelExpr":"datum.value < 0 ? '(' + (-datum.value) + ')' : '' + datum.value","labelColor":{"condition":{"test":"datum.value < 0","value":"#e8261c"},"value":"#404040"}}}}},
     {"data":{"name":"c10"},"mark":{"type":"line","strokeWidth":1.8,"strokeJoin":"round"},
      "encoding":{
       "x":{"field":"d","type":"temporal","title":null,"scale":{"domain":[{"year":2019,"month":1,"date":1},{"year":2022,"month":12,"date":30}]},
            "axis":{"values":[{"year":2019,"month":1,"date":2},{"year":2019,"month":4,"date":2},{"year":2019,"month":7,"date":2},{"year":2019,"month":10,"date":2},{"year":2020,"month":1,"date":2},{"year":2020,"month":4,"date":2},{"year":2020,"month":7,"date":2},{"year":2020,"month":10,"date":2},{"year":2021,"month":1,"date":2},{"year":2021,"month":4,"date":2},{"year":2021,"month":7,"date":2},{"year":2021,"month":10,"date":2},{"year":2022,"month":1,"date":2},{"year":2022,"month":4,"date":2},{"year":2022,"month":7,"date":2},{"year":2022,"month":10,"date":2}],"format":"%Y-%m-%d","labelAngle":-90,"labelPadding":3,"domain":false,"ticks":false}},
       "y":{"field":"v","type":"quantitative","title":null,"scale":{"domain":[-1200,400],"nice":false},
            "axis":{"values":[-1200,-1000,-800,-600,-400,-200,0,200,400],"labelPadding":5.7,"labelOverlap":false,"labelExpr":"datum.value < 0 ? '(' + (-datum.value) + ')' : '' + datum.value","labelColor":{"condition":{"test":"datum.value < 0","value":"#e8261c"},"value":"#404040"}}},
       "color":{"field":"s","type":"nominal","scale":{"domain":["名臣健康","拉芳家化"],"range":["#c9452c","#534f8c"]},
                "legend":{"orient":"none","legendX":36.8,"legendY":155.5,"direction":"horizontal","columns":2,"symbolType":"M-2.5,0L2.5,0","symbolSize":36,"symbolStrokeWidth":2.5,"title":null,"columnPadding":11.5,"labelOffset":9,"padding":0}}
      }}
    ]}
   ]}
  ]}
 ]},
 {"hconcat":[
  {"width":45,"height":1,"data":{"values":[{}]},"mark":{"type":"rect","opacity":0},"encoding":{}},
  {"width":310,"height":4,"data":{"values":[{}]},"mark":{"type":"rect","opacity":0},"encoding":{},"view":{"stroke":"#7f7f7f","strokeWidth":1,"strokeDash":[310,3000]},"title":{"text":"资料来源：Wind，光大证券研究所整理","orient":"bottom","offset":1,"fontSize":8,"fontWeight":"normal","color":"#333333"}},
  {"width":20,"height":1,"data":{"values":[{}]},"mark":{"type":"rect","opacity":0},"encoding":{}},
  {"width":310,"height":4,"data":{"values":[{}]},"mark":{"type":"rect","opacity":0},"encoding":{},"view":{"stroke":"#7f7f7f","strokeWidth":1,"strokeDash":[310,3000]},"title":{"text":"资料来源：Wind，光大证券研究所整理","orient":"bottom","offset":1,"fontSize":8,"fontWeight":"normal","color":"#333333"}}
 ]}
]},
{"width":1,"height":17,"data":{"values":[{}]},"mark":{"type":"rect","opacity":0},"encoding":{}},
{"spacing":2,"resolve":{"scale":{"color":"independent","strokeDash":"independent"},"legend":{"color":"independent","strokeDash":"independent"}},"vconcat":[
 {"resolve":{"scale":{"color":"independent","strokeDash":"independent"},"legend":{"color":"independent","strokeDash":"independent"}},"hconcat":[
  {"width":45,"height":1,"data":{"values":[{}]},"mark":{"type":"rect","opacity":0},"encoding":{}},
  {"vconcat":[
   {"width":310,"height":4.8,"data":{"values":[{}]},"mark":{"type":"rect","opacity":0},"encoding":{},"view":{"stroke":"#595959","strokeWidth":1,"strokeDash":[310,3000]},"title":{"text":"图 11：代运营公司 PE(ttm)（更新至 2022/12/30）","offset":3}},
   {"hconcat":[
    {"width":17,"height":1,"data":{"values":[{}]},"mark":{"type":"rect","opacity":0},"encoding":{}},
    {"width":237.4,"height":98.4,"data":{"name":"c11"},
     "mark":{"type":"line","strokeWidth":2,"strokeJoin":"round"},
     "encoding":{
      "x":{"field":"d","type":"temporal","title":null,"scale":{"domain":[{"year":2019,"month":9,"date":25},{"year":2022,"month":12,"date":31}]},
           "axis":{"values":[{"year":2019,"month":9,"date":27},{"year":2019,"month":12,"date":27},{"year":2020,"month":3,"date":27},{"year":2020,"month":6,"date":27},{"year":2020,"month":9,"date":27},{"year":2020,"month":12,"date":27},{"year":2021,"month":3,"date":27},{"year":2021,"month":6,"date":27},{"year":2021,"month":9,"date":27},{"year":2021,"month":12,"date":27},{"year":2022,"month":3,"date":27},{"year":2022,"month":6,"date":27},{"year":2022,"month":9,"date":27},{"year":2022,"month":12,"date":27}],"format":"%Y-%m-%d","labelAngle":-45,"labelPadding":2}},
      "y":{"field":"v","type":"quantitative","title":null,"scale":{"domain":[0,140],"nice":false},"axis":{"values":[0,20,40,60,80,100,120,140],"ticks":false,"labelPadding":11.6,"labelOverlap":false}},
      "color":{"field":"s","type":"nominal","scale":{"domain":["壹网壹创","丽人丽妆"],"range":["#c9452c","#534f8c"]},
               "legend":{"orient":"none","legendX":54.8,"legendY":154.4,"direction":"horizontal","columns":2,"symbolType":"M-2.5,0L2.5,0","symbolSize":46.2,"symbolStrokeWidth":2.5,"title":null,"columnPadding":6.1,"labelOffset":8.6,"padding":0}}
     }}
   ]}
  ]},
  {"width":20,"height":1,"data":{"values":[{}]},"mark":{"type":"rect","opacity":0},"encoding":{}},
  {"vconcat":[
   {"width":310,"height":4.8,"data":{"values":[{}]},"mark":{"type":"rect","opacity":0},"encoding":{},"view":{"stroke":"#595959","strokeWidth":1,"strokeDash":[310,3000]},"title":{"text":"图 12：原料及制造商公司 PE(ttm)（更新至 2022/12/30）","offset":3}},
   {"hconcat":[
    {"width":23.7,"height":1,"data":{"values":[{}]},"mark":{"type":"rect","opacity":0},"encoding":{}},
    {"width":237,"height":91.7,"layer":[
     {"data":{"values":[{}]},"mark":{"type":"rule","color":"#bfbfbf","strokeWidth":1},"encoding":{"y":{"datum":0,"type":"quantitative","title":null,"axis":{"values":[-10,-5,0,5,10,15,20,25,30,35],"labelPadding":5,"labelOverlap":false,"labelExpr":"datum.value < 0 ? '(' + (-datum.value) + ')' : '' + datum.value","labelColor":{"condition":{"test":"datum.value < 0","value":"#e8261c"},"value":"#404040"}}}}},
     {"data":{"name":"c12"},"mark":{"type":"line","strokeWidth":2,"strokeJoin":"round"},
      "encoding":{
       "x":{"field":"d","type":"temporal","title":null,"scale":{"domain":[{"year":2019,"month":1,"date":2},{"year":2022,"month":12,"date":30}]},
            "axis":{"values":[{"year":2019,"month":1,"date":2},{"year":2019,"month":4,"date":2},{"year":2019,"month":7,"date":2},{"year":2019,"month":10,"date":2},{"year":2020,"month":1,"date":2},{"year":2020,"month":4,"date":2},{"year":2020,"month":7,"date":2},{"year":2020,"month":10,"date":2},{"year":2021,"month":1,"date":2},{"year":2021,"month":4,"date":2},{"year":2021,"month":7,"date":2},{"year":2021,"month":10,"date":2},{"year":2022,"month":1,"date":2},{"year":2022,"month":4,"date":2},{"year":2022,"month":7,"date":2},{"year":2022,"month":10,"date":2}],"format":"%Y-%m-%d","labelAngle":-90,"labelPadding":3,"domain":false,"ticks":false}},
       "y":{"field":"v","type":"quantitative","title":null,"scale":{"domain":[-10,35],"nice":false},
            "axis":{"values":[-10,-5,0,5,10,15,20,25,30,35],"labelPadding":5,"labelOverlap":false,"labelExpr":"datum.value < 0 ? '(' + (-datum.value) + ')' : '' + datum.value","labelColor":{"condition":{"test":"datum.value < 0","value":"#e8261c"},"value":"#404040"}}},
       "color":{"field":"s","type":"nominal","scale":{"domain":["青松股份"],"range":["#c9452c"]},
                "legend":{"orient":"none","legendX":90.8,"legendY":154.7,"direction":"horizontal","symbolType":"M-2.5,0L2.5,0","symbolSize":41,"symbolStrokeWidth":2.5,"title":null,"labelOffset":9.3,"padding":0}}
      }}
    ]}
   ]}
  ]}
 ]},
 {"hconcat":[
  {"width":45,"height":1,"data":{"values":[{}]},"mark":{"type":"rect","opacity":0},"encoding":{}},
  {"width":310,"height":4,"data":{"values":[{}]},"mark":{"type":"rect","opacity":0},"encoding":{},"view":{"stroke":"#7f7f7f","strokeWidth":1,"strokeDash":[310,3000]},"title":{"text":"资料来源：Wind，光大证券研究所整理","orient":"bottom","offset":1,"fontSize":8,"fontWeight":"normal","color":"#333333"}},
  {"width":20,"height":1,"data":{"values":[{}]},"mark":{"type":"rect","opacity":0},"encoding":{}},
  {"width":310,"height":4,"data":{"values":[{}]},"mark":{"type":"rect","opacity":0},"encoding":{},"view":{"stroke":"#7f7f7f","strokeWidth":1,"strokeDash":[310,3000]},"title":{"text":"资料来源：Wind，光大证券研究所整理","orient":"bottom","offset":1,"fontSize":8,"fontWeight":"normal","color":"#333333"}}
 ]}
]},
{"width":1,"height":13.7,"data":{"values":[{}]},"mark":{"type":"rect","opacity":0},"encoding":{}},
{"hconcat":[
 {"width":260,"height":1,"data":{"values":[{}]},"mark":{"type":"rect","opacity":0},"encoding":{}},
 {"spacing":13.1,"vconcat":[
  {"width":430,"height":70.4,
   "data":{"values":[{"i":1,"t":"个股方面，过去一周 15 家化妆品相关标的中有 13 家公司上涨，涨幅排名前三"},{"i":2,"t":"位的分别为上美股份、名臣健康、科思股份，涨幅分别为+35.19%、+17.69%、"},{"i":3,"t":"+12.83%，涨幅位于后三位的分别是壹网壹创、丸美股份、青松股份，涨幅分别"},{"i":4,"t":"为-3.19%、-1.86%、+0.72%。"}]},
   "mark":{"type":"text","align":"left","baseline":"middle","fontSize":12.2,"color":"#222222","dx":1.5},
   "encoding":{"y":{"field":"i","type":"ordinal","axis":null},"x":{"datum":0,"type":"quantitative","scale":{"domain":[0,1]},"axis":null},"text":{"field":"t"}}},
  {"vconcat":[
   {"title":{"text":"表 3：过去一周化妆品板块个股涨幅（截至 2022/12/30）","offset":7},
    "hconcat":[
     {"width":40,"height":229,"layer":[
      {"data":{"name":"tbl"},"mark":{"type":"rect","fill":"#ffffff","stroke":"#c9c9c9","strokeWidth":0.6},"encoding":{"y":{"field":"r","type":"ordinal","scale":{"type":"band","domain":[0,1,2,3,4,5,6,7,8,9,10,11,12,13,14,15],"paddingInner":0,"paddingOuter":0},"axis":null}}},
      {"data":{"values":[{"r":0}]},"mark":{"type":"rect","fill":"#c4442c","stroke":"#e7b2a6","strokeWidth":0.5},"encoding":{"y":{"field":"r","type":"ordinal","scale":{"type":"band","domain":[0,1,2,3,4,5,6,7,8,9,10,11,12,13,14,15],"paddingInner":0,"paddingOuter":0},"axis":null}}},
      {"data":{"values":[{"r":0,"h":"证券代码"}]},"mark":{"type":"text","fill":"#ffffff","fontSize":7.2},"encoding":{"y":{"field":"r","type":"ordinal","scale":{"type":"band","domain":[0,1,2,3,4,5,6,7,8,9,10,11,12,13,14,15],"paddingInner":0,"paddingOuter":0},"axis":null},"text":{"field":"h"}}},
      {"data":{"name":"tbl"},"mark":{"type":"text","fill":"#333333","fontSize":7.5,"font":"Liberation Sans"},"encoding":{"y":{"field":"r","type":"ordinal","scale":{"type":"band","domain":[0,1,2,3,4,5,6,7,8,9,10,11,12,13,14,15],"paddingInner":0,"paddingOuter":0},"axis":null},"text":{"field":"code"}}},
      {"data":{"values":[{"r":11},{"r":15}]},"mark":{"type":"rule","color":"#6e6e6e","strokeWidth":0.9},"encoding":{"y":{"field":"r","type":"ordinal","bandPosition":0,"scale":{"type":"band","domain":[0,1,2,3,4,5,6,7,8,9,10,11,12,13,14,15],"paddingInner":0,"paddingOuter":0},"axis":null}}}
     ]},
     {"width":35,"height":229,"layer":[
      {"data":{"name":"tbl"},"mark":{"type":"rect","fill":"#ffffff","stroke":"#c9c9c9","strokeWidth":0.6},"encoding":{"y":{"field":"r","type":"ordinal","scale":{"type":"band","domain":[0,1,2,3,4,5,6,7,8,9,10,11,12,13,14,15],"paddingInner":0,"paddingOuter":0},"axis":null}}},
      {"data":{"values":[{"r":0}]},"mark":{"type":"rect","fill":"#c4442c","stroke":"#e7b2a6","strokeWidth":0.5},"encoding":{"y":{"field":"r","type":"ordinal","scale":{"type":"band","domain":[0,1,2,3,4,5,6,7,8,9,10,11,12,13,14,15],"paddingInner":0,"paddingOuter":0},"axis":null}}},
      {"data":{"values":[{"r":0,"h":"证券简称"}]},"mark":{"type":"text","fill":"#ffffff","fontSize":7.2},"encoding":{"y":{"field":"r","type":"ordinal","scale":{"type":"band","domain":[0,1,2,3,4,5,6,7,8,9,10,11,12,13,14,15],"paddingInner":0,"paddingOuter":0},"axis":null},"text":{"field":"h"}}},
      {"data":{"name":"tbl"},"mark":{"type":"text","fill":"#333333","fontSize":7.5},"encoding":{"y":{"field":"r","type":"ordinal","scale":{"type":"band","domain":[0,1,2,3,4,5,6,7,8,9,10,11,12,13,14,15],"paddingInner":0,"paddingOuter":0},"axis":null},"text":{"field":"name"}}},
      {"data":{"values":[{"r":11},{"r":15}]},"mark":{"type":"rule","color":"#6e6e6e","strokeWidth":0.9},"encoding":{"y":{"field":"r","type":"ordinal","bandPosition":0,"scale":{"type":"band","domain":[0,1,2,3,4,5,6,7,8,9,10,11,12,13,14,15],"paddingInner":0,"paddingOuter":0},"axis":null}}}
     ]},
     {"width":53.3,"height":229,"layer":[
      {"data":{"name":"tbl"},"mark":{"type":"rect","fill":"#ffffff","stroke":"#c9c9c9","strokeWidth":0.6},"encoding":{"y":{"field":"r","type":"ordinal","scale":{"type":"band","domain":[0,1,2,3,4,5,6,7,8,9,10,11,12,13,14,15],"paddingInner":0,"paddingOuter":0},"axis":null}}},
      {"data":{"values":[{"r":0}]},"mark":{"type":"rect","fill":"#c4442c","stroke":"#e7b2a6","strokeWidth":0.5},"encoding":{"y":{"field":"r","type":"ordinal","scale":{"type":"band","domain":[0,1,2,3,4,5,6,7,8,9,10,11,12,13,14,15],"paddingInner":0,"paddingOuter":0},"axis":null}}},
      {"data":{"values":[{"r":0,"h":"周收盘价（元）"}]},"mark":{"type":"text","fill":"#ffffff","fontSize":7.2},"encoding":{"y":{"field":"r","type":"ordinal","scale":{"type":"band","domain":[0,1,2,3,4,5,6,7,8,9,10,11,12,13,14,15],"paddingInner":0,"paddingOuter":0},"axis":null},"text":{"field":"h"}}},
      {"data":{"name":"tbl"},"mark":{"type":"text","fill":"#333333","fontSize":7.5,"font":"Liberation Sans"},"encoding":{"y":{"field":"r","type":"ordinal","scale":{"type":"band","domain":[0,1,2,3,4,5,6,7,8,9,10,11,12,13,14,15],"paddingInner":0,"paddingOuter":0},"axis":null},"text":{"field":"close"}}},
      {"data":{"values":[{"r":11},{"r":15}]},"mark":{"type":"rule","color":"#6e6e6e","strokeWidth":0.9},"encoding":{"y":{"field":"r","type":"ordinal","bandPosition":0,"scale":{"type":"band","domain":[0,1,2,3,4,5,6,7,8,9,10,11,12,13,14,15],"paddingInner":0,"paddingOuter":0},"axis":null}}}
     ]},
     {"width":55,"height":229,"resolve":{"scale":{"x":"independent"}},"layer":[
      {"data":{"name":"tbl"},"mark":{"type":"rect","fill":"#ffffff","stroke":"#c9c9c9","strokeWidth":0.6},"encoding":{"y":{"field":"r","type":"ordinal","scale":{"type":"band","domain":[0,1,2,3,4,5,6,7,8,9,10,11,12,13,14,15],"paddingInner":0,"paddingOuter":0},"axis":null}}},
      {"data":{"values":[{"r":0}]},"mark":{"type":"rect","fill":"#c4442c","stroke":"#e7b2a6","strokeWidth":0.5},"encoding":{"y":{"field":"r","type":"ordinal","scale":{"type":"band","domain":[0,1,2,3,4,5,6,7,8,9,10,11,12,13,14,15],"paddingInner":0,"paddingOuter":0},"axis":null}}},
      {"data":{"name":"tbl"},"transform":[{"filter":"datum.chg >= 0"}],"mark":{"type":"bar","height":{"band":0.86},"color":{"gradient":"linear","x1":0,"y1":0,"x2":1,"y2":0,"stops":[{"offset":0,"color":"#c4442c"},{"offset":1,"color":"#ffffff"}]}},
       "encoding":{"y":{"field":"r","type":"ordinal","scale":{"type":"band","domain":[0,1,2,3,4,5,6,7,8,9,10,11,12,13,14,15],"paddingInner":0,"paddingOuter":0},"axis":null},"x":{"field":"chg","type":"quantitative","scale":{"domain":[-3.91,35.19],"zero":false,"nice":false},"axis":null},"x2":{"datum":-3.91}}},
      {"data":{"name":"tbl"},"transform":[{"filter":"datum.chg < 0"}],"mark":{"type":"bar","height":{"band":0.86},"color":{"gradient":"linear","x1":0,"y1":0,"x2":1,"y2":0,"stops":[{"offset":0,"color":"#3c9a3c"},{"offset":1,"color":"#ffffff"}]}},
       "encoding":{"y":{"field":"r","type":"ordinal","scale":{"type":"band","domain":[0,1,2,3,4,5,6,7,8,9,10,11,12,13,14,15],"paddingInner":0,"paddingOuter":0},"axis":null},"x":{"field":"chg","type":"quantitative","scale":{"domain":[-1.73,-3.19],"zero":false,"nice":false},"axis":null},"x2":{"datum":-1.73}}},
      {"data":{"values":[{"r":0,"h":"区间涨跌幅（%）"}]},"mark":{"type":"text","fill":"#ffffff","fontSize":7.2},"encoding":{"y":{"field":"r","type":"ordinal","scale":{"type":"band","domain":[0,1,2,3,4,5,6,7,8,9,10,11,12,13,14,15],"paddingInner":0,"paddingOuter":0},"axis":null},"text":{"field":"h"}}},
      {"data":{"name":"tbl"},"mark":{"type":"text","fill":"#333333","fontSize":7.5,"font":"Liberation Sans"},"encoding":{"y":{"field":"r","type":"ordinal","scale":{"type":"band","domain":[0,1,2,3,4,5,6,7,8,9,10,11,12,13,14,15],"paddingInner":0,"paddingOuter":0},"axis":null},"text":{"field":"chgt"}}},
      {"data":{"values":[{"r":11},{"r":15}]},"mark":{"type":"rule","color":"#6e6e6e","strokeWidth":0.9},"encoding":{"y":{"field":"r","type":"ordinal","bandPosition":0,"scale":{"type":"band","domain":[0,1,2,3,4,5,6,7,8,9,10,11,12,13,14,15],"paddingInner":0,"paddingOuter":0},"axis":null}}}
     ]},
     {"width":60,"height":229,"layer":[
      {"data":{"name":"tbl"},"mark":{"type":"rect","fill":"#ffffff","stroke":"#c9c9c9","strokeWidth":0.6},"encoding":{"y":{"field":"r","type":"ordinal","scale":{"type":"band","domain":[0,1,2,3,4,5,6,7,8,9,10,11,12,13,14,15],"paddingInner":0,"paddingOuter":0},"axis":null}}},
      {"data":{"values":[{"r":0}]},"mark":{"type":"rect","fill":"#c4442c","stroke":"#e7b2a6","strokeWidth":0.5},"encoding":{"y":{"field":"r","type":"ordinal","scale":{"type":"band","domain":[0,1,2,3,4,5,6,7,8,9,10,11,12,13,14,15],"paddingInner":0,"paddingOuter":0},"axis":null}}},
      {"data":{"values":[{"r":0,"h":"成交量（万股）"}]},"mark":{"type":"text","fill":"#ffffff","fontSize":7.2},"encoding":{"y":{"field":"r","type":"ordinal","scale":{"type":"band","domain":[0,1,2,3,4,5,6,7,8,9,10,11,12,13,14,15],"paddingInner":0,"paddingOuter":0},"axis":null},"text":{"field":"h"}}},
      {"data":{"name":"tbl"},"mark":{"type":"text","fill":"#333333","fontSize":7.5,"font":"Liberation Sans"},"encoding":{"y":{"field":"r","type":"ordinal","scale":{"type":"band","domain":[0,1,2,3,4,5,6,7,8,9,10,11,12,13,14,15],"paddingInner":0,"paddingOuter":0},"axis":null},"text":{"field":"vol"}}},
      {"data":{"values":[{"r":11},{"r":15}]},"mark":{"type":"rule","color":"#6e6e6e","strokeWidth":0.9},"encoding":{"y":{"field":"r","type":"ordinal","bandPosition":0,"scale":{"type":"band","domain":[0,1,2,3,4,5,6,7,8,9,10,11,12,13,14,15],"paddingInner":0,"paddingOuter":0},"axis":null}}}
     ]},
     {"width":73.3,"height":229,"layer":[
      {"data":{"name":"tbl"},"mark":{"type":"rect","fill":"#ffffff","stroke":"#c9c9c9","strokeWidth":0.6},"encoding":{"y":{"field":"r","type":"ordinal","scale":{"type":"band","domain":[0,1,2,3,4,5,6,7,8,9,10,11,12,13,14,15],"paddingInner":0,"paddingOuter":0},"axis":null}}},
      {"data":{"values":[{"r":0}]},"mark":{"type":"rect","fill":"#c4442c","stroke":"#e7b2a6","strokeWidth":0.5},"encoding":{"y":{"field":"r","type":"ordinal","scale":{"type":"band","domain":[0,1,2,3,4,5,6,7,8,9,10,11,12,13,14,15],"paddingInner":0,"paddingOuter":0},"axis":null}}},
      {"data":{"values":[{"r":0,"h":"成交额（亿元/天）"}]},"mark":{"type":"text","fill":"#ffffff","fontSize":7.2},"encoding":{"y":{"field":"r","type":"ordinal","scale":{"type":"band","domain":[0,1,2,3,4,5,6,7,8,9,10,11,12,13,14,15],"paddingInner":0,"paddingOuter":0},"axis":null},"text":{"field":"h"}}},
      {"data":{"name":"tbl"},"mark":{"type":"text","fill":"#333333","fontSize":7.5,"font":"Liberation Sans"},"encoding":{"y":{"field":"r","type":"ordinal","scale":{"type":"band","domain":[0,1,2,3,4,5,6,7,8,9,10,11,12,13,14,15],"paddingInner":0,"paddingOuter":0},"axis":null},"text":{"field":"amt"}}},
      {"data":{"values":[{"r":11},{"r":15}]},"mark":{"type":"rule","color":"#6e6e6e","strokeWidth":0.9},"encoding":{"y":{"field":"r","type":"ordinal","bandPosition":0,"scale":{"type":"band","domain":[0,1,2,3,4,5,6,7,8,9,10,11,12,13,14,15],"paddingInner":0,"paddingOuter":0},"axis":null}}}
     ]},
     {"width":43.4,"height":229,"layer":[
      {"data":{"name":"tbl"},"mark":{"type":"rect","fill":"#ffffff","stroke":"#c9c9c9","strokeWidth":0.6},"encoding":{"y":{"field":"r","type":"ordinal","scale":{"type":"band","domain":[0,1,2,3,4,5,6,7,8,9,10,11,12,13,14,15],"paddingInner":0,"paddingOuter":0},"axis":null}}},
      {"data":{"values":[{"r":0}]},"mark":{"type":"rect","fill":"#c4442c","stroke":"#e7b2a6","strokeWidth":0.5},"encoding":{"y":{"field":"r","type":"ordinal","scale":{"type":"band","domain":[0,1,2,3,4,5,6,7,8,9,10,11,12,13,14,15],"paddingInner":0,"paddingOuter":0},"axis":null}}},
      {"data":{"values":[{"r":0,"h":"动态市盈率"}]},"mark":{"type":"text","fill":"#ffffff","fontSize":7.2},"encoding":{"y":{"field":"r","type":"ordinal","scale":{"type":"band","domain":[0,1,2,3,4,5,6,7,8,9,10,11,12,13,14,15],"paddingInner":0,"paddingOuter":0},"axis":null},"text":{"field":"h"}}},
      {"data":{"name":"tbl"},"mark":{"type":"text","fill":"#333333","fontSize":7.5,"font":"Liberation Sans"},"encoding":{"y":{"field":"r","type":"ordinal","scale":{"type":"band","domain":[0,1,2,3,4,5,6,7,8,9,10,11,12,13,14,15],"paddingInner":0,"paddingOuter":0},"axis":null},"text":{"field":"pe"}}},
      {"data":{"values":[{"r":11},{"r":15}]},"mark":{"type":"rule","color":"#6e6e6e","strokeWidth":0.9},"encoding":{"y":{"field":"r","type":"ordinal","bandPosition":0,"scale":{"type":"band","domain":[0,1,2,3,4,5,6,7,8,9,10,11,12,13,14,15],"paddingInner":0,"paddingOuter":0},"axis":null}}}
     ]},
     {"width":55,"height":229,"layer":[
      {"data":{"name":"tbl"},"mark":{"type":"rect","fill":"#ffffff","stroke":"#c9c9c9","strokeWidth":0.6},"encoding":{"y":{"field":"r","type":"ordinal","scale":{"type":"band","domain":[0,1,2,3,4,5,6,7,8,9,10,11,12,13,14,15],"paddingInner":0,"paddingOuter":0},"axis":null}}},
      {"data":{"values":[{"r":0}]},"mark":{"type":"rect","fill":"#c4442c","stroke":"#e7b2a6","strokeWidth":0.5},"encoding":{"y":{"field":"r","type":"ordinal","scale":{"type":"band","domain":[0,1,2,3,4,5,6,7,8,9,10,11,12,13,14,15],"paddingInner":0,"paddingOuter":0},"axis":null}}},
      {"data":{"values":[{"r":0,"h":"总市值（亿元）"}]},"mark":{"type":"text","fill":"#ffffff","fontSize":7.2},"encoding":{"y":{"field":"r","type":"ordinal","scale":{"type":"band","domain":[0,1,2,3,4,5,6,7,8,9,10,11,12,13,14,15],"paddingInner":0,"paddingOuter":0},"axis":null},"text":{"field":"h"}}},
      {"data":{"name":"tbl"},"mark":{"type":"text","fill":"#333333","fontSize":7.5,"font":"Liberation Sans"},"encoding":{"y":{"field":"r","type":"ordinal","scale":{"type":"band","domain":[0,1,2,3,4,5,6,7,8,9,10,11,12,13,14,15],"paddingInner":0,"paddingOuter":0},"axis":null},"text":{"field":"mcap"}}},
      {"data":{"values":[{"r":11},{"r":15}]},"mark":{"type":"rule","color":"#6e6e6e","strokeWidth":0.9},"encoding":{"y":{"field":"r","type":"ordinal","bandPosition":0,"scale":{"type":"band","domain":[0,1,2,3,4,5,6,7,8,9,10,11,12,13,14,15],"paddingInner":0,"paddingOuter":0},"axis":null}}}
     ]}
    ]},
   {"width":430,"height":43.5,
    "data":{"values":[{"i":1,"t":"注：巨子生物、上美股份周收盘价、成交额、总市值按照 2022 年 12 月 30 日港币兑人民币汇率 1 港币=0.8933 人民币进"},{"i":2,"t":"行换算"},{"i":3,"t":"资料来源：Wind，光大证券研究所整理"}]},
    "mark":{"type":"text","align":"left","baseline":"middle","fontSize":8,"color":"#333333","dx":1},
    "encoding":{"y":{"field":"i","type":"ordinal","axis":null},"x":{"datum":0,"type":"quantitative","scale":{"domain":[0,1]},"axis":null},"text":{"field":"t"}}}
  ]}
 ]}
]},
{"width":1,"height":96.7,"data":{"values":[{}]},"mark":{"type":"rect","opacity":0},"encoding":{}},
{"width":724,"height":26,"layer":[
 {"data":{"values":[{}]},"mark":{"type":"rect","color":"#c4442c"},"encoding":{}},
 {"data":{"values":[{"p":"l","t":"敬请参阅最后一页特别声明"}]},"mark":{"type":"text","align":"left","baseline":"middle","color":"#ffffff","fontSize":10.5},"encoding":{"text":{"field":"t"},"x":{"field":"p","type":"nominal","scale":{"type":"point","domain":["l","c","r"],"padding":0.142},"axis":null}}},
 {"data":{"values":[{"p":"c","t":"-5-"}]},"mark":{"type":"text","align":"center","baseline":"middle","color":"#ffffff","fontSize":10.5},"encoding":{"text":{"field":"t"},"x":{"field":"p","type":"nominal","scale":{"type":"point","domain":["l","c","r"],"padding":0.142},"axis":null}}},
 {"data":{"values":[{"p":"r","t":"证券研究报告"}]},"mark":{"type":"text","align":"right","baseline":"middle","color":"#ffffff","fontSize":10.5},"encoding":{"text":{"field":"t"},"x":{"field":"p","type":"nominal","scale":{"type":"point","domain":["l","c","r"],"padding":0.142},"axis":null}}}
]}
]
}
